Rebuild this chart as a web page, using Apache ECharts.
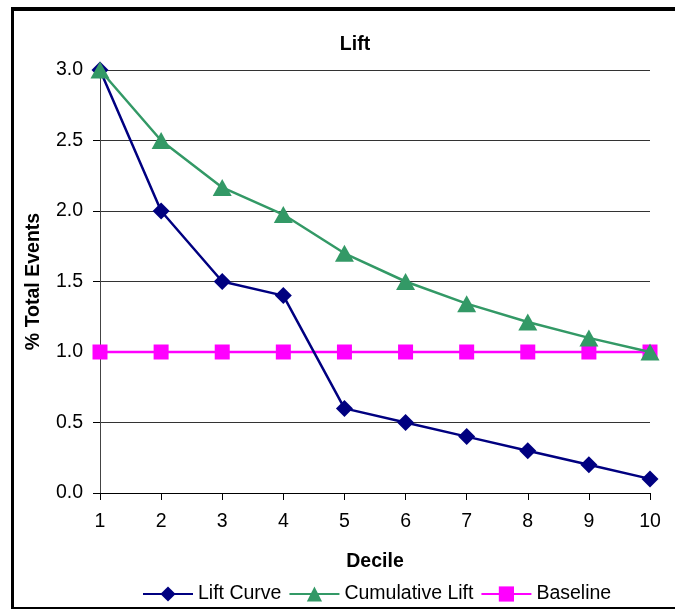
<!DOCTYPE html>
<html>
<head>
<meta charset="utf-8">
<script src="https://cdn.jsdelivr.net/npm/echarts@6/dist/echarts.min.js"></script>
<style>html,body{margin:0;padding:0;background:#fff}#c{width:675px;height:610px}</style>
</head>
<body>
<div id="c"></div>
<script>
var deciles = ['1','2','3','4','5','6','7','8','9','10'];
var liftCurve = [3.0, 2.0, 1.5, 1.4, 0.6, 0.5, 0.4, 0.3, 0.2, 0.1];
var cumulativeLift = [3.0, 2.5, 2.167, 1.975, 1.7, 1.5, 1.343, 1.213, 1.1, 1.0];
var baseline = [1, 1, 1, 1, 1, 1, 1, 1, 1, 1];
var seriesNames = ['Lift Curve', 'Cumulative Lift', 'Baseline'];

var chart = echarts.init(document.getElementById('c'));
var font = 'Liberation Sans, Arial, sans-serif';
var fs = 19.5;
chart.setOption({
  animation: false,
  backgroundColor: '#fff',
  graphic: [
    {type: 'line', shape: {x1: 11, y1: 9, x2: 680, y2: 9}, style: {stroke: '#000', lineWidth: 4}},
    {type: 'line', shape: {x1: 12.5, y1: 7, x2: 12.5, y2: 609}, style: {stroke: '#000', lineWidth: 3}},
    {type: 'line', shape: {x1: 11, y1: 608, x2: 680, y2: 608}, style: {stroke: '#000', lineWidth: 2}}
  ],
  title: {
    text: 'Lift', left: 350, top: 30, textAlign: 'center',
    textStyle: {fontFamily: font, fontSize: fs, fontWeight: 'bold', color: '#000'}
  },
  grid: {left: 100, right: 25, top: 70, bottom: 117},
  legend: {
    data: seriesNames, top: 579, left: 137, itemWidth: 50, itemHeight: 19, itemGap: 7,
    textStyle: {fontFamily: font, fontSize: fs, color: '#000'}
  },
  xAxis: {
    type: 'category', data: deciles, boundaryGap: false,
    name: 'Decile', nameLocation: 'middle', nameGap: 59,
    nameTextStyle: {fontFamily: font, fontSize: fs, fontWeight: 'bold', color: '#000'},
    axisLine: {lineStyle: {color: '#000', width: 1}},
    axisTick: {show: true, length: 7, alignWithLabel: true, lineStyle: {color: '#000'}},
    axisLabel: {fontFamily: font, fontSize: fs, color: '#000', margin: 19},
    splitLine: {show: false}
  },
  yAxis: {
    type: 'value', min: 0, max: 3, interval: 0.5,
    name: '% Total Events', nameLocation: 'middle', nameGap: 56, nameRotate: 90,
    nameTextStyle: {fontFamily: font, fontSize: fs, fontWeight: 'bold', color: '#000'},
    axisLine: {show: true, lineStyle: {color: '#444', width: 1}},
    axisTick: {show: true, length: 7, lineStyle: {color: '#000'}},
    axisLabel: {fontFamily: font, fontSize: fs, color: '#000', margin: 17,
      formatter: function (v) { return v.toFixed(1); }},
    splitLine: {show: true, lineStyle: {color: '#333', width: 1}}
  },
  series: [{
    name: seriesNames[0], type: 'line', data: liftCurve,
    symbol: 'diamond', symbolSize: 17,
    lineStyle: {color: '#000080', width: 2.5}, itemStyle: {color: '#000080'}, z: 3
  }, {
    name: seriesNames[1], type: 'line', data: cumulativeLift,
    symbol: 'triangle', symbolSize: [19, 17],
    lineStyle: {color: '#339966', width: 2.5}, itemStyle: {color: '#339966'}, z: 4
  }, {
    name: seriesNames[2], type: 'line', data: baseline,
    symbol: 'rect', symbolSize: 15,
    lineStyle: {color: '#FF00FF', width: 2.5}, itemStyle: {color: '#FF00FF'}, z: 2
  }]
});
</script>
</body>
</html>
